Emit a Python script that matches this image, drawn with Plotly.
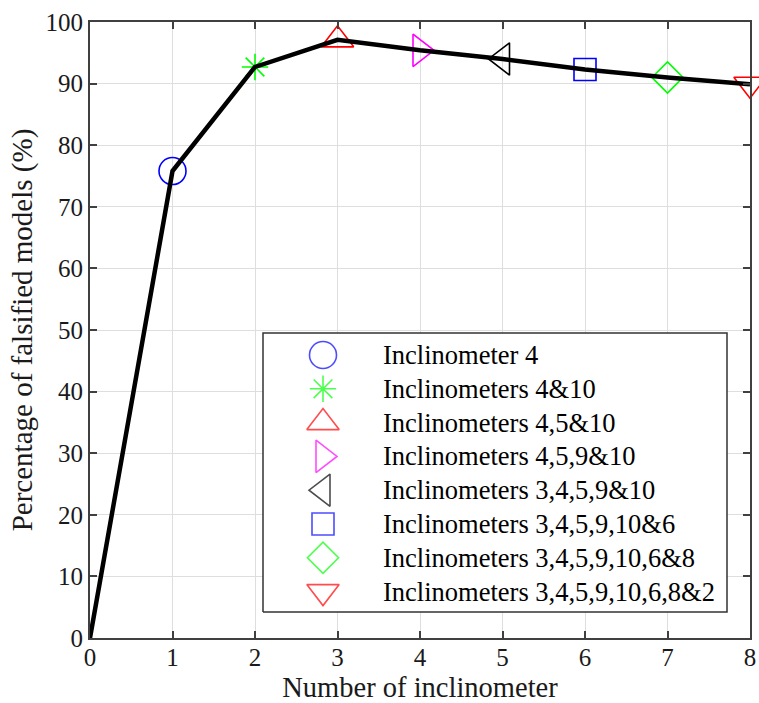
import plotly.graph_objects as go

# Falsified-model percentage vs number of inclinometers used
n_inclinometers = [0, 1, 2, 3, 4, 5, 6, 7, 8]
pct_falsified = [0, 75.8, 92.7, 97.1, 95.4, 94.0, 92.3, 91.0, 89.9]

combo_labels = [
    "Inclinometer 4",
    "Inclinometers 4&10",
    "Inclinometers 4,5&10",
    "Inclinometers 4,5,9&10",
    "Inclinometers 3,4,5,9&10",
    "Inclinometers 3,4,5,9,10&6",
    "Inclinometers 3,4,5,9,10,6&8",
    "Inclinometers 3,4,5,9,10,6,8&2",
]
combo_symbols = ["circle-open", "asterisk-open", "triangle-up-open", "triangle-right-open",
                 "triangle-left-open", "square-open", "diamond-open", "triangle-down-open"]
combo_colors = ["#0000FF", "#00FF00", "#FF0000", "#FF00FF",
                "#000000", "#0000FF", "#00FF00", "#FF0000"]
combo_sizes = [27, 22, 28, 28, 28, 22, 24, 28]

FONT = "Liberation Serif"
TXT = "#1a1a1a"

# plot-area size in pixels (used for the key panel's own coordinate frame)
PW, PH = 660, 616

fig = go.Figure()

for i, (lab, sym, col, sz) in enumerate(zip(combo_labels, combo_symbols, combo_colors, combo_sizes)):
    fig.add_trace(go.Scatter(
        x=[n_inclinometers[i + 1]], y=[pct_falsified[i + 1]],
        mode="markers", name=lab, showlegend=False,
        marker=dict(symbol=sym, size=sz, color=col, line=dict(color=col, width=1.6)),
        cliponaxis=False,
    ))

fig.add_trace(go.Scatter(
    x=n_inclinometers, y=pct_falsified, mode="lines",
    line=dict(color="black", width=4.5), showlegend=False,
))

# --- key panel drawn on an overlaid pixel-scaled axis pair ---
box_x0, box_x1, box_y0, box_y1 = 173, 637, 26, 305
row_h = 33.8
first_row = box_y1 - 22
sym_x, txt_x = 233, 291
row_y = [first_row - k * row_h for k in range(len(combo_labels))]

fig.add_trace(go.Scatter(
    x=[box_x0, box_x1, box_x1, box_x0, box_x0],
    y=[box_y0, box_y0, box_y1, box_y1, box_y0],
    xaxis="x2", yaxis="y2", mode="lines", fill="toself",
    fillcolor="white", line=dict(color="#333333", width=1.5),
    showlegend=False, hoverinfo="skip",
))
fig.add_trace(go.Scatter(
    x=[sym_x] * len(combo_labels), y=row_y,
    xaxis="x2", yaxis="y2", mode="markers", showlegend=False,
    marker=dict(symbol=combo_symbols, size=combo_sizes, color=combo_colors,
                line=dict(color=combo_colors, width=1.6)),
    hovertext=combo_labels, hoverinfo="text",
))
for lab, yy in zip(combo_labels, row_y):
    fig.add_annotation(x=txt_x, y=yy, xref="x2", yref="y2", text=lab, showarrow=False,
                       xanchor="left", yanchor="middle",
                       font=dict(family=FONT, size=26.5, color="black"))

axis_common = dict(
    showgrid=True, gridcolor="#dedede", gridwidth=1,
    showline=True, linecolor="#404040", linewidth=1.8, mirror="ticks",
    ticks="inside", ticklen=7, tickwidth=1.5, tickcolor="#404040",
    tickfont=dict(family=FONT, size=25, color=TXT),
    zeroline=False, automargin=False,
)

fig.update_layout(
    xaxis=dict(range=[0, 8], tickmode="linear", tick0=0, dtick=1, ticklabelstandoff=-4,
               title=dict(text="Number of inclinometer", font=dict(family=FONT, size=28.5, color=TXT), standoff=10),
               **axis_common),
    yaxis=dict(range=[0, 100], tickmode="linear", tick0=0, dtick=10,
               title=dict(text="Percentage of falsified models (%)", font=dict(family=FONT, size=29, color=TXT), standoff=4),
               **axis_common),
    xaxis2=dict(range=[0, PW], overlaying="x", anchor="y2", visible=False, fixedrange=True),
    yaxis2=dict(range=[0, PH], overlaying="y", anchor="x2", visible=False, fixedrange=True),
    width=759, height=703,
    margin=dict(l=90, r=9, t=22, b=65),
    font=dict(family=FONT, color=TXT),
    plot_bgcolor="white", paper_bgcolor="white",
    showlegend=False,
)

fig.write_html("out.html")
